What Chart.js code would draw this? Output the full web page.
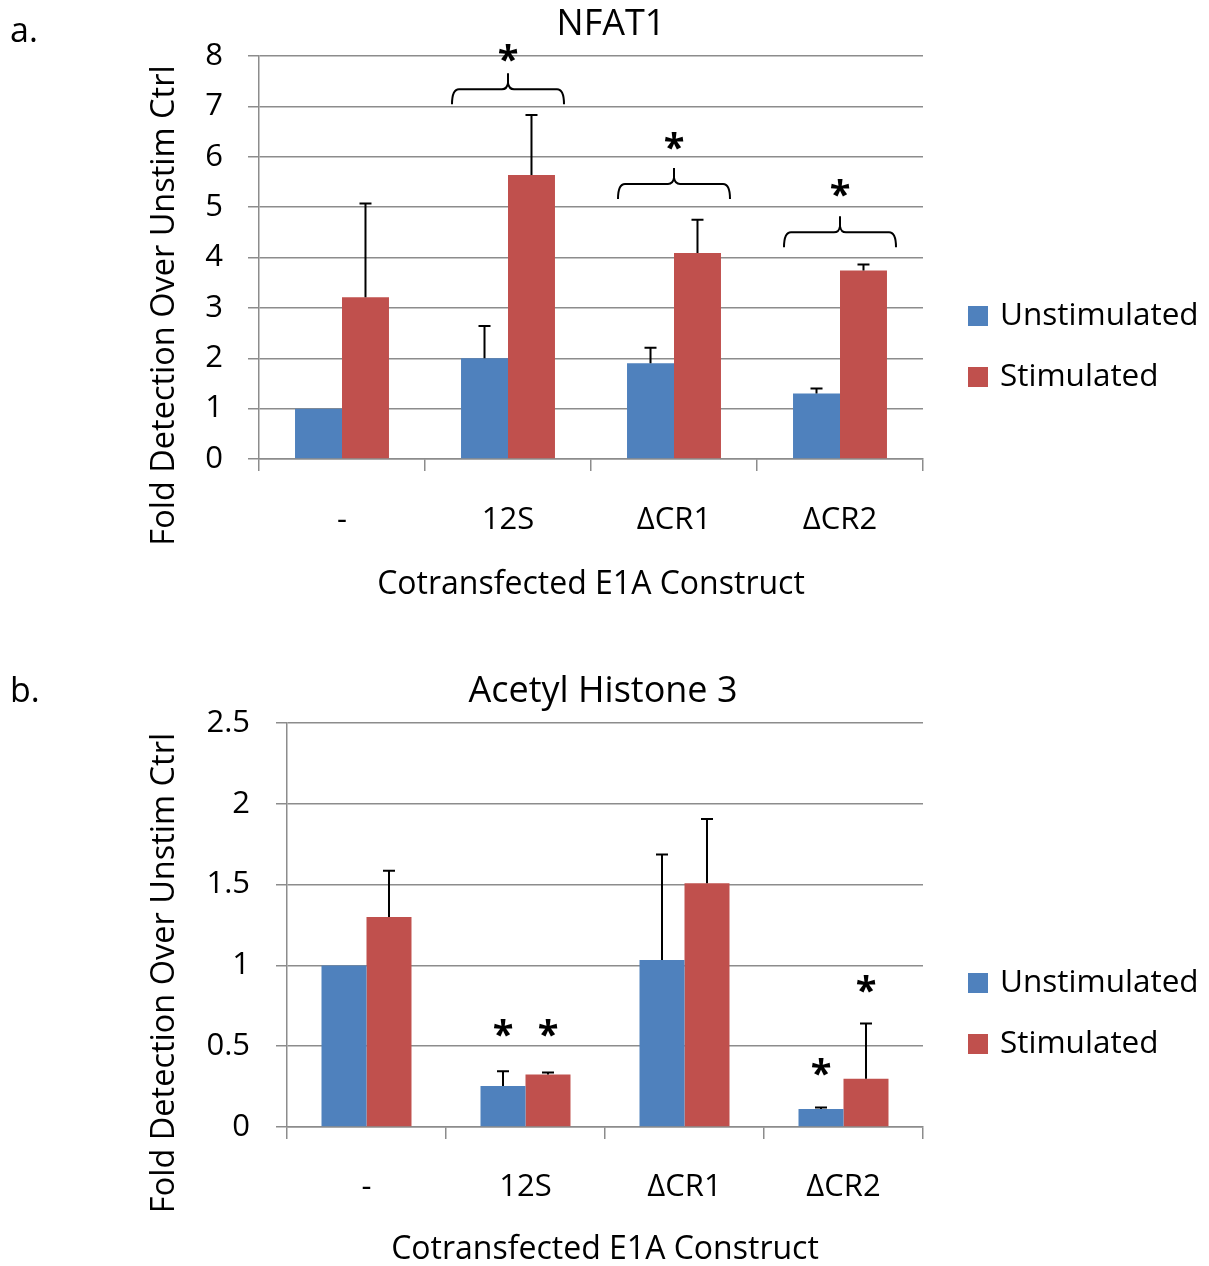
<!DOCTYPE html>
<html>
<head>
<meta charset="utf-8">
<script src="https://cdn.jsdelivr.net/npm/chart.js@4.4.1/dist/chart.umd.min.js"></script>
<style>
  body { margin: 0; background: #fff; width: 1209px; height: 1266px; overflow: hidden; position: relative; }
  .wrap { position: absolute; left: 0; width: 1209px; }
  #wrapA { top: 0; height: 620px; }
  #wrapB { top: 600px; height: 670px; }
  .letter { position: absolute; left: 10px; font: 34px "Open Sans", sans-serif; line-height: 1; color: #000; }
</style>
</head>
<body>
<div class="wrap" id="wrapA"><canvas id="nfatChart" width="1209" height="620"></canvas></div>
<div class="wrap" id="wrapB"><canvas id="acetylChart" width="1209" height="670"></canvas></div>
<div class="letter" style="top:12px">a.</div>
<div class="letter" style="top:672px">b.</div>
<script>
// shared
const categories = ["-", "12S", "\u0394CR1", "\u0394CR2"];
const seriesNames = ["Unstimulated", "Stimulated"];
const seriesColours = ["#4F81BD", "#C0504D"];

// a. NFAT1
const nfatUnstim = [1.0, 2.0, 1.9, 1.3];
const nfatUnstimErr = [null, 0.64, 0.31, 0.10];
const nfatStim = [3.21, 5.64, 4.09, 3.74];
const nfatStimErr = [1.86, 1.19, 0.66, 0.12];
// significance braces (category index, brace level, star level)
const nfatBraceCats = [1, 2, 3];
const nfatBraceLevels = [7.34, 5.46, 4.50];
const nfatStarLevels = [8.06, 6.32, 5.38];

// b. Acetyl Histone 3
const acUnstim = [1.0, 0.254, 1.033, 0.112];
const acUnstimErr = [null, 0.091, 0.653, 0.008];
const acStim = [1.30, 0.325, 1.509, 0.298];
const acStimErr = [0.285, 0.012, 0.397, 0.342];
// stars above single bars (category, series, level)
const acStarCats = [1, 1, 3, 3];
const acStarSeries = [0, 1, 0, 1];
const acStarLevels = [0.61, 0.61, 0.372, 0.883];

const FONT = "'Open Sans', sans-serif";
const GRID = "#8c8c8c";
const Y_TITLE = "Fold Detection Over Unstim Ctrl";
Chart.defaults.font.family = FONT;
Chart.defaults.color = "#000";

const errorBars = {
  id: "errorBars",
  afterDatasetsDraw(chart) {
    const ctx = chart.ctx;
    const y = chart.scales.y;
    ctx.save();
    ctx.strokeStyle = "#000";
    ctx.lineWidth = 2;
    chart.data.datasets.forEach((ds, i) => {
      chart.getDatasetMeta(i).data.forEach((bar, j) => {
        const e = ds.errors[j];
        if (e == null) return;
        const top = y.getPixelForValue(ds.data[j] + e);
        ctx.beginPath();
        ctx.moveTo(bar.x, bar.y);
        ctx.lineTo(bar.x, top);
        ctx.moveTo(bar.x - 6, top);
        ctx.lineTo(bar.x + 6, top);
        ctx.stroke();
      });
    });
    ctx.restore();
  }
};

function drawStar(ctx, x, cy) {
  ctx.font = "bold 38px " + FONT;
  ctx.textAlign = "center";
  ctx.textBaseline = "alphabetic";
  const m = ctx.measureText("*");
  ctx.fillText("*", x, cy + (m.actualBoundingBoxAscent - m.actualBoundingBoxDescent) / 2);
}

// title, y-axis title and legend drawn around the plot
function panelDecor(title, titleX) {
  return {
    id: "panelDecor",
    afterDraw(chart) {
      const ctx = chart.ctx;
      const area = chart.chartArea;
      ctx.save();
      ctx.fillStyle = "#000";
      ctx.font = "36px " + FONT;
      ctx.textAlign = "center";
      ctx.textBaseline = "middle";
      ctx.fillText(title, titleX, area.top - 31);

      ctx.save();
      ctx.translate(165, (area.top + area.bottom) / 2 + 48);
      ctx.rotate(-Math.PI / 2);
      ctx.font = "32.5px " + FONT;
      ctx.fillText(Y_TITLE, 0, 0);
      ctx.restore();

      ctx.font = "31.5px " + FONT;
      ctx.textAlign = "left";
      chart.data.datasets.forEach((ds, i) => {
        const rowY = area.top + 260 + i * 61;
        ctx.fillStyle = ds.backgroundColor;
        ctx.fillRect(area.right + 45, rowY - 10, 20, 20);
        ctx.fillStyle = "#000";
        ctx.fillText(ds.label, area.right + 77, rowY);
      });
      ctx.restore();
    }
  };
}

const nfatMarks = {
  id: "nfatMarks",
  afterDraw(chart) {
    const ctx = chart.ctx, xs = chart.scales.x, ys = chart.scales.y;
    ctx.save();
    ctx.strokeStyle = "#000";
    ctx.fillStyle = "#000";
    ctx.lineWidth = 2;
    nfatBraceCats.forEach((cat, k) => {
      const cx = xs.getPixelForValue(cat);
      const ly = ys.getPixelForValue(nfatBraceLevels[k]);
      ctx.beginPath();
      ctx.moveTo(cx - 56, ly + 15);
      ctx.quadraticCurveTo(cx - 56, ly, cx - 49, ly);
      ctx.lineTo(cx - 6, ly);
      ctx.quadraticCurveTo(cx - 1, ly, cx, ly - 6);
      ctx.lineTo(cx, ly - 16);
      ctx.moveTo(cx, ly - 6);
      ctx.quadraticCurveTo(cx + 1, ly, cx + 6, ly);
      ctx.lineTo(cx + 49, ly);
      ctx.quadraticCurveTo(cx + 56, ly, cx + 56, ly + 15);
      ctx.stroke();
      drawStar(ctx, cx, ys.getPixelForValue(nfatStarLevels[k]));
    });
    ctx.restore();
  }
};

const acMarks = {
  id: "acMarks",
  afterDraw(chart) {
    const ctx = chart.ctx, ys = chart.scales.y;
    ctx.save();
    ctx.fillStyle = "#000";
    acStarCats.forEach((cat, k) => {
      const bar = chart.getDatasetMeta(acStarSeries[k]).data[cat];
      drawStar(ctx, bar.x, ys.getPixelForValue(acStarLevels[k]));
    });
    ctx.restore();
  }
};

function panelChart({ canvasId, title, titleX, unstim, unstimErr, stim, stimErr,
                      yMax, yStep, plotTop, plotBottom, canvasHeight, padBottom,
                      yAxisWidth, yTickPad, xTickPad, marks }) {
  return new Chart(document.getElementById(canvasId), {
    type: "bar",
    data: {
      labels: categories,
      datasets: [
        { label: seriesNames[0], data: unstim, errors: unstimErr, backgroundColor: seriesColours[0] },
        { label: seriesNames[1], data: stim, errors: stimErr, backgroundColor: seriesColours[1] }
      ]
    },
    options: {
      responsive: false,
      animation: false,
      layout: { padding: { left: 146, right: 286, top: plotTop, bottom: padBottom } },
      datasets: { bar: { categoryPercentage: 0.566, barPercentage: 1 } },
      scales: {
        x: {
          grid: { offset: true, drawOnChartArea: false, tickLength: 12, color: GRID, lineWidth: 1.5 },
          border: { color: GRID, width: 1.5 },
          ticks: { font: { size: 31 }, padding: xTickPad, maxRotation: 0 },
          title: { display: true, text: "Cotransfected E1A Construct", font: { size: 32 }, padding: 0 },
          afterFit: (s) => { s.height = canvasHeight - padBottom - plotBottom; }
        },
        y: {
          min: 0,
          max: yMax,
          ticks: { stepSize: yStep, font: { size: 31 }, padding: yTickPad, callback: (v) => String(v) },
          grid: { color: GRID, lineWidth: 1.5, tickLength: 11 },
          border: { color: GRID, width: 1.5 },
          afterFit: (s) => { s.width = yAxisWidth; }
        }
      },
      plugins: { legend: { display: false }, tooltip: { enabled: false } }
    },
    plugins: [errorBars, panelDecor(title, titleX), marks]
  });
}

panelChart({
  canvasId: "nfatChart", title: "NFAT1", titleX: 611,
  unstim: nfatUnstim, unstimErr: nfatUnstimErr, stim: nfatStim, stimErr: nfatStimErr,
  yMax: 8, yStep: 1,
  plotTop: 56, plotBottom: 459, canvasHeight: 620, padBottom: 16,
  yAxisWidth: 259 - 146, yTickPad: 25, xTickPad: 31, marks: nfatMarks
});

panelChart({
  canvasId: "acetylChart", title: "Acetyl Histone 3", titleX: 603,
  unstim: acUnstim, unstimErr: acUnstimErr, stim: acStim, stimErr: acStimErr,
  yMax: 2.5, yStep: 0.5,
  plotTop: 123, plotBottom: 527, canvasHeight: 670, padBottom: 1,
  yAxisWidth: 287 - 146, yTickPad: 26, xTickPad: 30, marks: acMarks
});
</script>
</body>
</html>
